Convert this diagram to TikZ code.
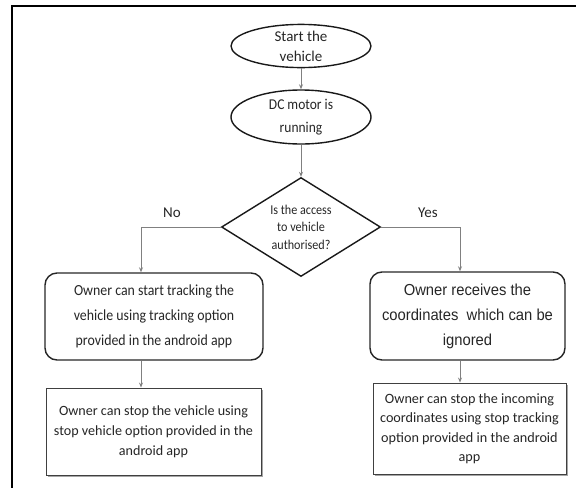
\documentclass[tikz,border=0pt]{standalone}
\usepackage{fontspec}
\setmainfont{Carlito}
\newfontfamily\narrowfont[FakeStretch=0.9]{Carlito}
\newfontfamily\arialfont[FakeStretch=0.93]{Liberation Sans}
\usetikzlibrary{shapes.geometric,arrows.meta,shadows}
\begin{document}
\begin{tikzpicture}[x=1pt,y=-1pt,
  every node/.style={inner sep=0pt, text=black!85, align=center},
  terminal/.style={ellipse, draw=black!90, line width=1.4pt, minimum width=140pt},
  decision/.style={diamond, draw=black!90, line width=1.4pt, aspect=1.6,
    minimum width=159pt, minimum height=99pt},
  actionbox/.style={rectangle, rounded corners=12pt, draw=black!85, line width=1.4pt},
  stopbox/.style={rectangle, draw=black!75, line width=0.9pt, fill=white,
    drop shadow={shadow xshift=1.5pt, shadow yshift=-1.5pt, fill=black!35, opacity=1}},
  flow/.style={draw=black!50, line width=0.8pt, -{Stealth[length=5pt,width=4pt]}},
  branch/.style={font=\fontsize{15}{18}\selectfont},
]
\useasboundingbox (0,0) rectangle (576,488);

% page frame (top and left rules)
\draw[line width=2pt, black] (576,5.7) -- (12.3,5.7) -- (12.3,488);

% start / running states
\node[terminal, minimum height=42pt, font=\fontsize{15}{20}\selectfont]
  (start) at (301,46) {Start the\\vehicle};
\node[terminal, minimum height=54pt, font=\narrowfont\fontsize{15}{23}\selectfont]
  (motor) at (301,117) {DC motor is\\running};

% access check
\node[decision, font=\narrowfont\fontsize{13.5}{17.5}\selectfont]
  (check) at (301,227) {Is the access\\to vehicle\\authorised?};

% branch columns
\coordinate (nox) at (141,0);
\coordinate (yesx) at (460,0);

% actions
\node[actionbox, minimum width=218pt, minimum height=87pt, font=\narrowfont\fontsize{15.4}{25}\selectfont]
  (track) at (154,316.5) {Owner can start tracking the\\vehicle using tracking option\\provided in the android app};
\node[actionbox, minimum width=195pt, minimum height=88pt, font=\arialfont\fontsize{15.9}{25}\selectfont]
  (recv) at (467.5,316) {Owner receives the\\coordinates\ \ which can be\\ignored};
\node[stopbox, minimum width=215pt, minimum height=87pt, font=\fontsize{14.1}{20}\selectfont]
  (stopveh) at (153.5,431.5) {Owner can stop the vehicle using\\stop vehicle option provided in the\\android app};
\node[stopbox, minimum width=193pt, minimum height=91pt, font=\fontsize{14.2}{19.5}\selectfont]
  (stoptrk) at (469.5,428.5) {Owner can stop the incoming\\coordinates using stop tracking\\option provided in the android\\app};

% branch labels
\node[branch] (no) at (172,213) {No};
\node[branch] (yes) at (428,213) {Yes};

% connectors
\draw[flow] (start.south) -- (motor.north);
\draw[flow] (motor.south) -- (check.north);
\draw[flow] (check.west) -| (nox |- track.north);
\draw[flow] (check.east) -| (yesx |- recv.north);
\draw[flow] (nox |- track.south) -- (nox |- stopveh.north);
\draw[flow] (yesx |- recv.south) -- (yesx |- stoptrk.north);
\end{tikzpicture}
\end{document}
